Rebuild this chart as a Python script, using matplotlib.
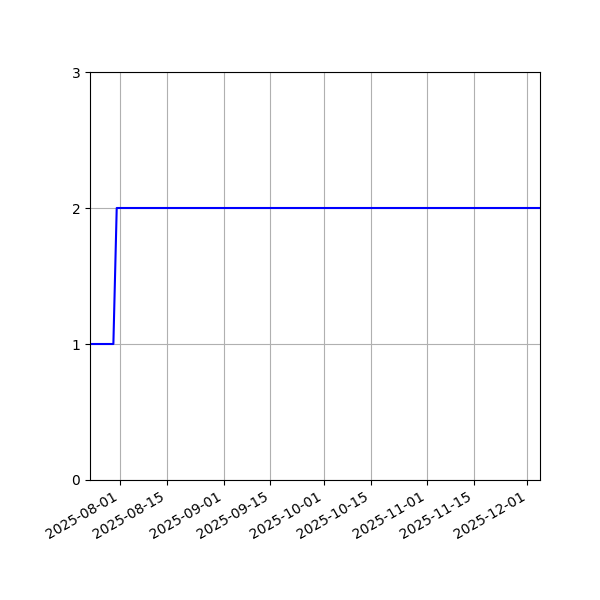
import numpy as np
import pandas as pd
import matplotlib
matplotlib.use("Agg")
import matplotlib.pyplot as plt

# ── Data ──────────────────────────────────────────────────────────────────────
dates = pd.to_datetime(["2025-07-23 00:00", "2025-07-30 00:00",
                        "2025-07-31 00:00", "2025-12-04 18:00"])
values = [1, 1, 2, 2]

fig, ax = plt.subplots(figsize=(6, 6), dpi=100)
ax.plot(dates, values, color="blue", lw=1.5)
ax.set_xlim(dates[0], dates[-1])
ax.set_ylim(0, 3)
ax.set_yticks([0, 1, 2, 3])
ax.grid(True)
fig.autofmt_xdate()
fig.subplots_adjust(left=0.15)

fig.savefig("out.png", dpi=100)
